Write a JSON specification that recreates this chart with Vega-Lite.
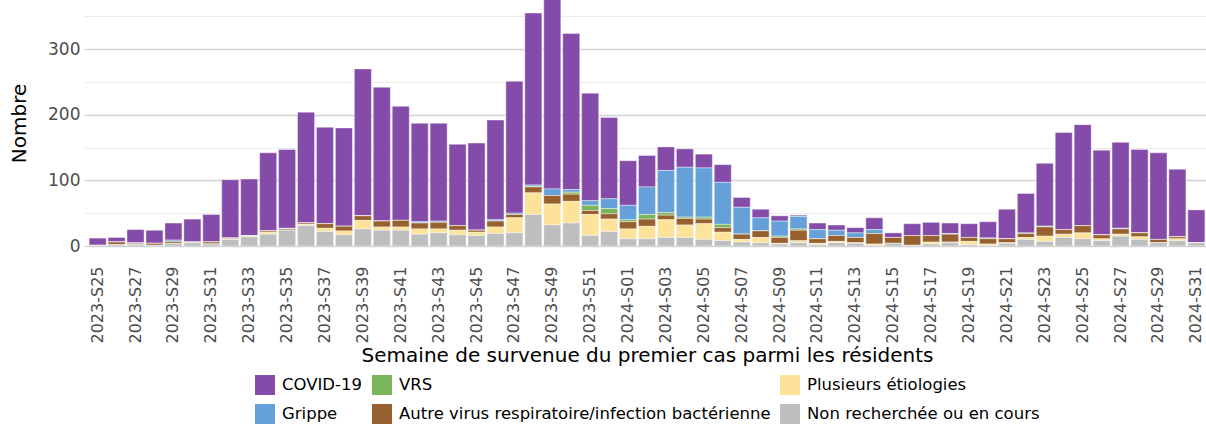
{
  "$schema": "https://vega.github.io/schema/vega-lite/v6.json",
  "width": 1118,
  "height": 246,
  "autosize": {"type": "none"},
  "padding": {"left": 88, "top": 0, "right": 0, "bottom": 180},
  "background": "white",
  "config": {"view": {"stroke": null}, "font": "DejaVu Sans"},
  "data": {"values": [
    {"w": "2023-S25", "covid": 11, "grippe": 0, "vrs": 0, "autre": 1, "plus": 0, "nr": 0},
    {"w": "2023-S26", "covid": 7, "grippe": 0, "vrs": 0, "autre": 4, "plus": 0, "nr": 2},
    {"w": "2023-S27", "covid": 20, "grippe": 1, "vrs": 0, "autre": 2, "plus": 0, "nr": 2},
    {"w": "2023-S28", "covid": 20, "grippe": 0, "vrs": 0, "autre": 3, "plus": 0, "nr": 1},
    {"w": "2023-S29", "covid": 26, "grippe": 2, "vrs": 0, "autre": 3, "plus": 0, "nr": 4},
    {"w": "2023-S30", "covid": 35, "grippe": 0, "vrs": 0, "autre": 1, "plus": 0, "nr": 5},
    {"w": "2023-S31", "covid": 42, "grippe": 0, "vrs": 0, "autre": 3, "plus": 0, "nr": 3},
    {"w": "2023-S32", "covid": 89, "grippe": 0, "vrs": 0, "autre": 1, "plus": 1, "nr": 10},
    {"w": "2023-S33", "covid": 86, "grippe": 1, "vrs": 0, "autre": 0, "plus": 1, "nr": 14},
    {"w": "2023-S34", "covid": 119, "grippe": 0, "vrs": 0, "autre": 2, "plus": 3, "nr": 18},
    {"w": "2023-S35", "covid": 120, "grippe": 1, "vrs": 0, "autre": 2, "plus": 0, "nr": 24},
    {"w": "2023-S36", "covid": 169, "grippe": 0, "vrs": 0, "autre": 2, "plus": 2, "nr": 31},
    {"w": "2023-S37", "covid": 147, "grippe": 0, "vrs": 0, "autre": 7, "plus": 5, "nr": 22},
    {"w": "2023-S38", "covid": 150, "grippe": 0, "vrs": 0, "autre": 7, "plus": 6, "nr": 17},
    {"w": "2023-S39", "covid": 224, "grippe": 0, "vrs": 0, "autre": 7, "plus": 13, "nr": 26},
    {"w": "2023-S40", "covid": 204, "grippe": 0, "vrs": 0, "autre": 9, "plus": 5, "nr": 24},
    {"w": "2023-S41", "covid": 174, "grippe": 0, "vrs": 0, "autre": 10, "plus": 5, "nr": 24},
    {"w": "2023-S42", "covid": 150, "grippe": 2, "vrs": 0, "autre": 9, "plus": 8, "nr": 18},
    {"w": "2023-S43", "covid": 149, "grippe": 2, "vrs": 0, "autre": 10, "plus": 6, "nr": 20},
    {"w": "2023-S44", "covid": 124, "grippe": 0, "vrs": 0, "autre": 7, "plus": 7, "nr": 17},
    {"w": "2023-S45", "covid": 133, "grippe": 0, "vrs": 0, "autre": 3, "plus": 5, "nr": 16},
    {"w": "2023-S46", "covid": 152, "grippe": 2, "vrs": 0, "autre": 9, "plus": 10, "nr": 19},
    {"w": "2023-S47", "covid": 201, "grippe": 2, "vrs": 0, "autre": 5, "plus": 23, "nr": 20},
    {"w": "2023-S48", "covid": 262, "grippe": 2, "vrs": 1, "autre": 9, "plus": 33, "nr": 48},
    {"w": "2023-S49", "covid": 290, "grippe": 10, "vrs": 0, "autre": 13, "plus": 32, "nr": 32},
    {"w": "2023-S50", "covid": 238, "grippe": 4, "vrs": 3, "autre": 11, "plus": 33, "nr": 35},
    {"w": "2023-S51", "covid": 164, "grippe": 7, "vrs": 8, "autre": 6, "plus": 32, "nr": 16},
    {"w": "2023-S52", "covid": 124, "grippe": 15, "vrs": 8, "autre": 8, "plus": 19, "nr": 22},
    {"w": "2024-S01", "covid": 68, "grippe": 22, "vrs": 3, "autre": 11, "plus": 15, "nr": 11},
    {"w": "2024-S02", "covid": 48, "grippe": 42, "vrs": 7, "autre": 11, "plus": 19, "nr": 11},
    {"w": "2024-S03", "covid": 36, "grippe": 64, "vrs": 4, "autre": 7, "plus": 27, "nr": 13},
    {"w": "2024-S04", "covid": 28, "grippe": 76, "vrs": 2, "autre": 10, "plus": 19, "nr": 13},
    {"w": "2024-S05", "covid": 21, "grippe": 75, "vrs": 3, "autre": 7, "plus": 24, "nr": 10},
    {"w": "2024-S06", "covid": 27, "grippe": 64, "vrs": 5, "autre": 7, "plus": 13, "nr": 8},
    {"w": "2024-S07", "covid": 15, "grippe": 41, "vrs": 0, "autre": 8, "plus": 4, "nr": 6},
    {"w": "2024-S08", "covid": 13, "grippe": 20, "vrs": 0, "autre": 10, "plus": 8, "nr": 5},
    {"w": "2024-S09", "covid": 8, "grippe": 23, "vrs": 2, "autre": 9, "plus": 1, "nr": 3},
    {"w": "2024-S10", "covid": 2, "grippe": 19, "vrs": 2, "autre": 16, "plus": 3, "nr": 5},
    {"w": "2024-S11", "covid": 10, "grippe": 14, "vrs": 0, "autre": 7, "plus": 2, "nr": 2},
    {"w": "2024-S12", "covid": 8, "grippe": 8, "vrs": 0, "autre": 9, "plus": 2, "nr": 5},
    {"w": "2024-S13", "covid": 8, "grippe": 7, "vrs": 0, "autre": 8, "plus": 1, "nr": 4},
    {"w": "2024-S14", "covid": 18, "grippe": 6, "vrs": 0, "autre": 16, "plus": 2, "nr": 1},
    {"w": "2024-S15", "covid": 7, "grippe": 0, "vrs": 0, "autre": 9, "plus": 0, "nr": 4},
    {"w": "2024-S16", "covid": 18, "grippe": 0, "vrs": 0, "autre": 15, "plus": 0, "nr": 1},
    {"w": "2024-S17", "covid": 20, "grippe": 0, "vrs": 0, "autre": 10, "plus": 3, "nr": 3},
    {"w": "2024-S18", "covid": 16, "grippe": 1, "vrs": 0, "autre": 12, "plus": 1, "nr": 5},
    {"w": "2024-S19", "covid": 21, "grippe": 0, "vrs": 0, "autre": 6, "plus": 5, "nr": 2},
    {"w": "2024-S20", "covid": 25, "grippe": 0, "vrs": 1, "autre": 8, "plus": 2, "nr": 1},
    {"w": "2024-S21", "covid": 45, "grippe": 0, "vrs": 0, "autre": 6, "plus": 1, "nr": 4},
    {"w": "2024-S22", "covid": 60, "grippe": 1, "vrs": 0, "autre": 6, "plus": 3, "nr": 10},
    {"w": "2024-S23", "covid": 96, "grippe": 0, "vrs": 1, "autre": 14, "plus": 8, "nr": 7},
    {"w": "2024-S24", "covid": 148, "grippe": 0, "vrs": 0, "autre": 7, "plus": 5, "nr": 13},
    {"w": "2024-S25", "covid": 154, "grippe": 0, "vrs": 0, "autre": 11, "plus": 9, "nr": 11},
    {"w": "2024-S26", "covid": 129, "grippe": 0, "vrs": 0, "autre": 6, "plus": 3, "nr": 8},
    {"w": "2024-S27", "covid": 131, "grippe": 1, "vrs": 0, "autre": 8, "plus": 3, "nr": 15},
    {"w": "2024-S28", "covid": 127, "grippe": 0, "vrs": 0, "autre": 6, "plus": 4, "nr": 10},
    {"w": "2024-S29", "covid": 132, "grippe": 0, "vrs": 0, "autre": 5, "plus": 0, "nr": 5},
    {"w": "2024-S30", "covid": 103, "grippe": 0, "vrs": 0, "autre": 3, "plus": 3, "nr": 8},
    {"w": "2024-S31", "covid": 50, "grippe": 0, "vrs": 0, "autre": 0, "plus": 0, "nr": 5}
  ]},
  "transform": [
    {"fold": ["covid", "grippe", "vrs", "autre", "plus", "nr"], "as": ["key", "n"]},
    {"calculate": "{'covid': 'COVID-19', 'grippe': 'Grippe', 'vrs': 'VRS', 'autre': 'Autre virus respiratoire/infection bactérienne', 'plus': 'Plusieurs étiologies', 'nr': 'Non recherchée ou en cours'}[datum.key]", "as": "cause"},
    {"calculate": "indexof(['nr', 'plus', 'autre', 'vrs', 'grippe', 'covid'], datum.key)", "as": "ord"}
  ],
  "mark": {"type": "bar", "stroke": "white", "strokeWidth": 0.5, "strokeOpacity": 0.8, "clip": true},
  "encoding": {
    "x": {
      "field": "w", "type": "ordinal", "sort": null,
      "scale": {"paddingInner": 0.1, "paddingOuter": 0.06},
      "axis": {
        "values": ["2023-S25","2023-S27","2023-S29","2023-S31","2023-S33","2023-S35","2023-S37","2023-S39","2023-S41","2023-S43","2023-S45","2023-S47","2023-S49","2023-S51","2024-S01","2024-S03","2024-S05","2024-S07","2024-S09","2024-S11","2024-S13","2024-S15","2024-S17","2024-S19","2024-S21","2024-S23","2024-S25","2024-S27","2024-S29","2024-S31"],
        "labelAngle": -90, "labelFontSize": 16, "labelColor": "#4d4d4d", "labelPadding": 20,
        "ticks": false, "domain": false, "grid": false,
        "title": "Semaine de survenue du premier cas parmi les résidents",
        "titleFontSize": 20, "titleFontWeight": "normal", "titleColor": "black", "titlePadding": 2
      }
    },
    "y": {
      "field": "n", "type": "quantitative", "aggregate": "sum",
      "stack": "zero",
      "scale": {"domain": [0, 375], "nice": false, "zero": true},
      "axis": {
        "values": [0, 50, 100, 150, 200, 250, 300, 350],
        "labelExpr": "datum.value % 100 === 0 ? datum.label : ''",
        "grid": true,
        "gridColor": {"condition": {"test": "datum.value % 100 === 0", "value": "#d2d2d2"}, "value": "#ebebeb"},
        "gridWidth": {"condition": {"test": "datum.value % 100 === 0", "value": 1.3}, "value": 1},
        "tickColor": {"condition": {"test": "datum.value % 100 === 0", "value": "#d2d2d2"}, "value": "#ebebeb"},
        "tickSize": 4, "domain": false,
        "labelFontSize": 17, "labelColor": "#4d4d4d", "labelPadding": 4,
        "title": "Nombre", "titleFontSize": 20, "titleFontWeight": "normal", "titleColor": "black", "titlePadding": 18
      }
    },
    "color": {
      "field": "cause", "type": "nominal",
      "scale": {
        "domain": ["COVID-19", "VRS", "Plusieurs étiologies", "Grippe", "Autre virus respiratoire/infection bactérienne", "Non recherchée ou en cours"],
        "range": ["#844ba9", "#7ab55c", "#fde29a", "#65a1d8", "#97602f", "#bebebe"]
      },
      "legend": {
        "orient": "none", "legendX": 167, "legendY": 375, "direction": "horizontal", "columns": 3,
        "title": null, "symbolType": "square", "symbolSize": 400, "symbolStrokeWidth": 0,
        "labelFontSize": 16.5, "labelColor": "black", "labelOffset": 7, "columnPadding": 9, "rowPadding": 9,
        "padding": 0, "labelLimit": 500
      }
    },
    "order": {"field": "ord", "type": "quantitative"}
  }
}
